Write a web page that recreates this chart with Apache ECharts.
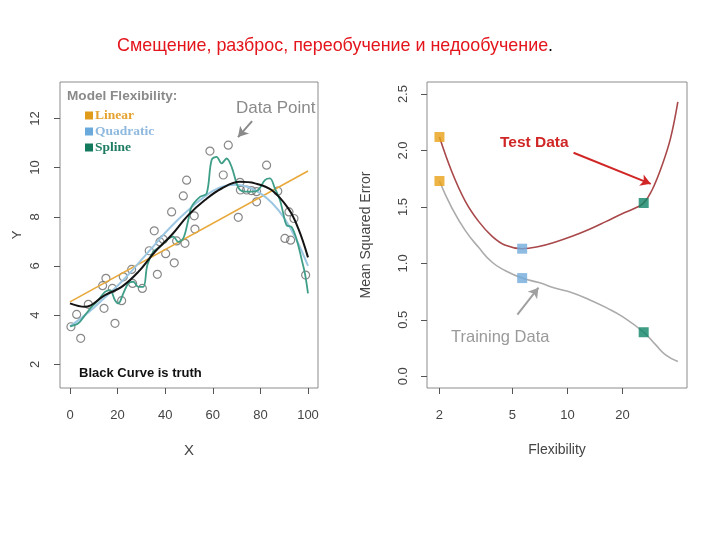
<!DOCTYPE html>
<html>
<head>
<meta charset="utf-8">
<script src="https://cdn.jsdelivr.net/npm/echarts@6/dist/echarts.min.js"></script>
<style>html,body{margin:0;padding:0;background:#fff}#c{width:720px;height:540px}</style>
</head>
<body>
<div id="c"></div>
<script>
// ---------- Left panel data ----------
const pointX = [0.4, 2.8, 4.5, 7.7, 13.7, 15.1, 14.3, 17.8, 18.9, 21.7, 22.4, 25.9, 26.3, 30.4, 33.3, 35.4, 36.7, 37.8, 39.2, 40.2, 42.7, 43.8, 44.8, 47.6, 48.3, 49.0, 52.2, 52.5, 58.8, 64.4, 66.5, 70.7, 71.4, 71.6, 74.2, 76.3, 78.4, 78.4, 82.6, 87.3, 92.0, 94.1, 90.3, 92.7, 99.0];
const pointY = [3.53, 4.03, 3.06, 4.44, 5.20, 5.50, 4.28, 5.09, 3.67, 4.59, 5.56, 5.86, 5.29, 5.09, 6.62, 7.43, 5.66, 6.98, 7.08, 6.50, 8.20, 6.13, 7.02, 8.85, 6.92, 9.49, 8.04, 7.50, 10.67, 9.70, 10.91, 7.98, 9.40, 9.09, 9.09, 9.06, 9.02, 8.61, 10.10, 9.04, 8.20, 7.93, 7.12, 7.05, 5.63];

const linearX = [0, 100];
const linearY = [4.54, 9.86];

const quadX = [0, 5, 10, 15, 20, 25, 30, 35, 40, 45, 50, 55, 60, 65, 70, 75, 80, 85, 90, 95, 100];
const quadY = [3.55, 3.9, 4.3, 4.75, 5.2, 5.7, 6.25, 6.8, 7.35, 7.85, 8.3, 8.7, 9.05, 9.25, 9.3, 9.2, 8.95, 8.55, 7.95, 7.1, 6.0];

const splineX = [0, 3.5, 6.3, 9.1, 11.9, 14.7, 16.8, 18.9, 20.3, 22.4, 24.5, 26.6, 28.7, 30.8, 32.5, 35, 37.8, 40.6, 43.4, 45.5, 47.6, 49.7, 51.1, 54.6, 57.4, 59.5, 61.6, 63.7, 65.8, 67.9, 70, 71.4, 73.5, 76.3, 79.1, 81.9, 84, 86.1, 88.2, 89.6, 91, 93.1, 95.3, 97.4, 98.7, 100];
const splineY = [3.55, 3.67, 4.0, 4.34, 4.61, 4.95, 5.02, 4.61, 4.48, 4.89, 5.29, 5.36, 5.15, 5.15, 6.04, 6.58, 6.78, 7.05, 7.19, 6.98, 7.12, 7.87, 8.41, 8.81, 8.95, 10.31, 10.44, 10.17, 10.37, 10.03, 9.36, 9.09, 9.02, 9.02, 9.09, 9.49, 9.56, 9.15, 8.68, 8.14, 7.66, 7.59, 7.05, 6.24, 5.70, 4.89];

const truthX = [0, 6.3, 14.7, 21.7, 28.7, 35.7, 42.7, 49.7, 56.7, 63.7, 71.4, 77.7, 84.7, 91.7, 95.9, 100];
const truthY = [4.48, 4.34, 4.82, 5.15, 5.76, 6.58, 7.26, 8.07, 8.68, 9.15, 9.42, 9.36, 9.09, 8.34, 7.53, 6.35];

const leftXTicks = [0, 20, 40, 60, 80, 100];
const leftYTicks = [2, 4, 6, 8, 10, 12];

// ---------- Right panel data ----------
const testFlex = [2, 2.34, 2.77, 3.28, 3.88, 4.59, 5.66, 6.98, 8.61, 10.6, 13.1, 16.2, 19.9, 23.5, 26.1, 29.0, 32.9, 36.6, 40.1];
const testMSE  = [2.12, 1.81, 1.55, 1.37, 1.24, 1.16, 1.13, 1.15, 1.19, 1.24, 1.30, 1.37, 1.44, 1.49, 1.535, 1.65, 1.87, 2.11, 2.43];

const trainFlex = [2, 2.34, 2.77, 3.28, 3.88, 4.59, 5.66, 6.98, 8.61, 10.6, 13.1, 16.2, 19.9, 26.1, 30.3, 34.4, 40.1];
const trainMSE  = [1.73, 1.49, 1.29, 1.14, 1.01, 0.935, 0.87, 0.83, 0.78, 0.74, 0.68, 0.61, 0.53, 0.39, 0.28, 0.19, 0.13];

const squareFlex  = [2, 5.66, 26.1];
const squareTest  = [2.12, 1.13, 1.535];
const squareTrain = [1.73, 0.87, 0.39];
const squareColors = ['#E8A117', '#72AADB', '#0E8565'];

const rightXTicks = [2, 5, 10, 20];
const rightYTicks = [0, 0.5, 1, 1.5, 2, 2.5];

// ---------- helpers ----------
const zip = (a, b) => a.map((v, i) => [v, b[i]]);
const FONT = 'Liberation Sans, Arial, sans-serif';
const tickStyle = { color: '#555', width: 1 };
const labelStyle = { color: '#444', fontSize: 13, fontFamily: FONT };
const hiddenLine = { show: false, onZero: false };

const chart = echarts.init(document.getElementById('c'));
chart.setOption({
  backgroundColor: '#fff',
  animation: false,
  grid: [
    { left: 60, top: 82, width: 258, height: 306, show: true, borderColor: '#8c8c8c', borderWidth: 1, backgroundColor: 'transparent' },
    { left: 427, top: 82, width: 260, height: 306, show: true, borderColor: '#8c8c8c', borderWidth: 1, backgroundColor: 'transparent' }
  ],
  xAxis: [
    {
      gridIndex: 0, type: 'value', min: -4.2, max: 104.2,
      name: 'X', nameLocation: 'middle', nameGap: 55,
      nameTextStyle: { color: '#444', fontSize: 15, fontFamily: FONT },
      axisLine: hiddenLine, splitLine: { show: false },
      axisTick: { show: true, inside: false, length: 6, lineStyle: tickStyle, customValues: leftXTicks },
      axisLabel: Object.assign({ margin: 21, customValues: leftXTicks }, labelStyle)
    },
    {
      gridIndex: 1, type: 'log', logBase: 10, min: 1.71, max: 45,
      name: 'Flexibility', nameLocation: 'middle', nameGap: 55,
      nameTextStyle: { color: '#444', fontSize: 14, fontFamily: FONT },
      axisLine: hiddenLine, splitLine: { show: false }, minorTick: { show: false },
      axisTick: { show: true, inside: false, length: 6, lineStyle: tickStyle, customValues: rightXTicks },
      axisLabel: Object.assign({ margin: 21, customValues: rightXTicks, formatter: v => String(Math.round(v)) }, labelStyle)
    }
  ],
  yAxis: [
    {
      gridIndex: 0, type: 'value', min: 1.04, max: 13.48,
      name: 'Y', nameLocation: 'middle', nameGap: 36,
      nameTextStyle: { color: '#444', fontSize: 13, fontFamily: FONT },
      axisLine: hiddenLine, splitLine: { show: false },
      axisTick: { show: true, inside: false, length: 6, lineStyle: tickStyle, customValues: leftYTicks },
      axisLabel: Object.assign({ margin: 18, rotate: 90, customValues: leftYTicks }, labelStyle)
    },
    {
      gridIndex: 1, type: 'value', min: -0.104, max: 2.607,
      name: 'Mean Squared Error', nameLocation: 'middle', nameGap: 54,
      nameTextStyle: { color: '#444', fontSize: 14, fontFamily: FONT },
      axisLine: hiddenLine, splitLine: { show: false },
      axisTick: { show: true, inside: false, length: 6, lineStyle: tickStyle, customValues: rightYTicks },
      axisLabel: Object.assign({ margin: 17, rotate: 90, customValues: rightYTicks, formatter: v => Number(v).toFixed(1) }, labelStyle)
    }
  ],
  legend: {
    left: 80, top: 103, orient: 'vertical', icon: 'rect', itemWidth: 8, itemHeight: 8, itemGap: 1,
    selectedMode: false,
    textStyle: { fontFamily: 'Liberation Serif, serif', fontWeight: 'bold', fontSize: 13.5, lineHeight: 15, padding: [0, 0, 0, -3] },
    data: [
      { name: 'Linear', textStyle: { color: '#E5A22E' } },
      { name: 'Quadratic', textStyle: { color: '#8FB9DE' } },
      { name: 'Spline', textStyle: { color: '#1E7C62' } }
    ]
  },
  graphic: [
    { type: 'text', left: 117, top: 37, style: { text: '{r|Смещение, разброс, переобучение и недообучение}{k|.}', rich: { r: { fill: '#E3141B', fontSize: 17.9, fontFamily: FONT }, k: { fill: '#000', fontSize: 17.9, fontFamily: FONT } } } },
    { type: 'text', left: 67, top: 89, style: { text: 'Model Flexibility:', fill: '#8a8a8a', fontSize: 13.6, fontWeight: 'bold', fontFamily: FONT } },
    { type: 'text', left: 236, top: 100, style: { text: 'Data Point', fill: '#8a8a8a', fontSize: 17, fontFamily: FONT } },
    { type: 'text', left: 79, top: 367, style: { text: 'Black Curve is truth', fill: '#111', fontSize: 13, fontWeight: 'bold', fontFamily: FONT } },
    { type: 'text', left: 500, top: 135, style: { text: 'Test Data', fill: '#D02626', fontSize: 15.5, fontWeight: 'bold', fontFamily: FONT } },
    { type: 'text', left: 451, top: 329, style: { text: 'Training Data', fill: '#9a9a9a', fontSize: 16.5, fontFamily: FONT } }
  ],
  series: [
    {
      name: 'Data', type: 'scatter', xAxisIndex: 0, yAxisIndex: 0, z: 2,
      symbol: 'circle', symbolSize: 8,
      itemStyle: { color: 'rgba(255,255,255,0)', borderColor: '#6a6a6a', borderWidth: 1.2 },
      data: zip(pointX, pointY),
      markLine: {
        silent: true, symbol: ['none', 'arrow'], symbolSize: [9, 10], label: { show: false },
        lineStyle: { color: '#8a8a8a', type: 'solid', width: 2 },
        data: [[{ coord: [76.5, 11.89] }, { coord: [70.6, 11.24] }]]
      }
    },
    {
      name: 'Linear', type: 'line', xAxisIndex: 0, yAxisIndex: 0, z: 3,
      showSymbol: false, symbol: 'none',
      itemStyle: { color: '#E09B1A' }, lineStyle: { color: '#E8A83A', width: 1.6 },
      data: zip(linearX, linearY)
    },
    {
      name: 'Quadratic', type: 'line', xAxisIndex: 0, yAxisIndex: 0, z: 3, smooth: 0.4,
      showSymbol: false, symbol: 'none',
      itemStyle: { color: '#6AA9DC' }, lineStyle: { color: '#9CC7E3', width: 2 },
      data: zip(quadX, quadY)
    },
    {
      name: 'Spline', type: 'line', xAxisIndex: 0, yAxisIndex: 0, z: 4, smooth: 0.35,
      showSymbol: false, symbol: 'none',
      itemStyle: { color: '#137A5E' }, lineStyle: { color: '#3E9E88', width: 1.8 },
      data: zip(splineX, splineY)
    },
    {
      name: 'Truth', type: 'line', xAxisIndex: 0, yAxisIndex: 0, z: 5, smooth: 0.4,
      showSymbol: false, symbol: 'none',
      lineStyle: { color: '#141414', width: 2 },
      data: zip(truthX, truthY)
    },
    {
      name: 'Test MSE', type: 'line', xAxisIndex: 1, yAxisIndex: 1, z: 3, smooth: 0.4,
      showSymbol: false, symbol: 'none',
      lineStyle: { color: '#A9484A', width: 1.6 },
      data: zip(testFlex, testMSE),
      markLine: {
        silent: true, symbol: ['none', 'arrow'], symbolSize: [9, 10], label: { show: false },
        lineStyle: { color: '#D02626', type: 'solid', width: 2 },
        data: [[{ coord: [10.8, 1.98] }, { coord: [28.5, 1.705] }]]
      }
    },
    {
      name: 'Training MSE', type: 'line', xAxisIndex: 1, yAxisIndex: 1, z: 3, smooth: 0.5,
      showSymbol: false, symbol: 'none',
      lineStyle: { color: '#ababab', width: 1.6 },
      data: zip(trainFlex, trainMSE),
      markLine: {
        silent: true, symbol: ['none', 'arrow'], symbolSize: [9, 10], label: { show: false },
        lineStyle: { color: '#a0a0a0', type: 'solid', width: 2 },
        data: [[{ coord: [5.33, 0.546] }, { coord: [6.95, 0.785] }]]
      }
    },
    {
      name: 'Test points', type: 'scatter', xAxisIndex: 1, yAxisIndex: 1, z: 6,
      symbol: 'rect', symbolSize: 10,
      data: squareFlex.map((f, i) => ({ value: [f, squareTest[i]], itemStyle: { color: squareColors[i] } }))
    },
    {
      name: 'Training points', type: 'scatter', xAxisIndex: 1, yAxisIndex: 1, z: 6,
      symbol: 'rect', symbolSize: 10,
      data: squareFlex.map((f, i) => ({ value: [f, squareTrain[i]], itemStyle: { color: squareColors[i] } }))
    }
  ]
});
</script>
</body>
</html>
